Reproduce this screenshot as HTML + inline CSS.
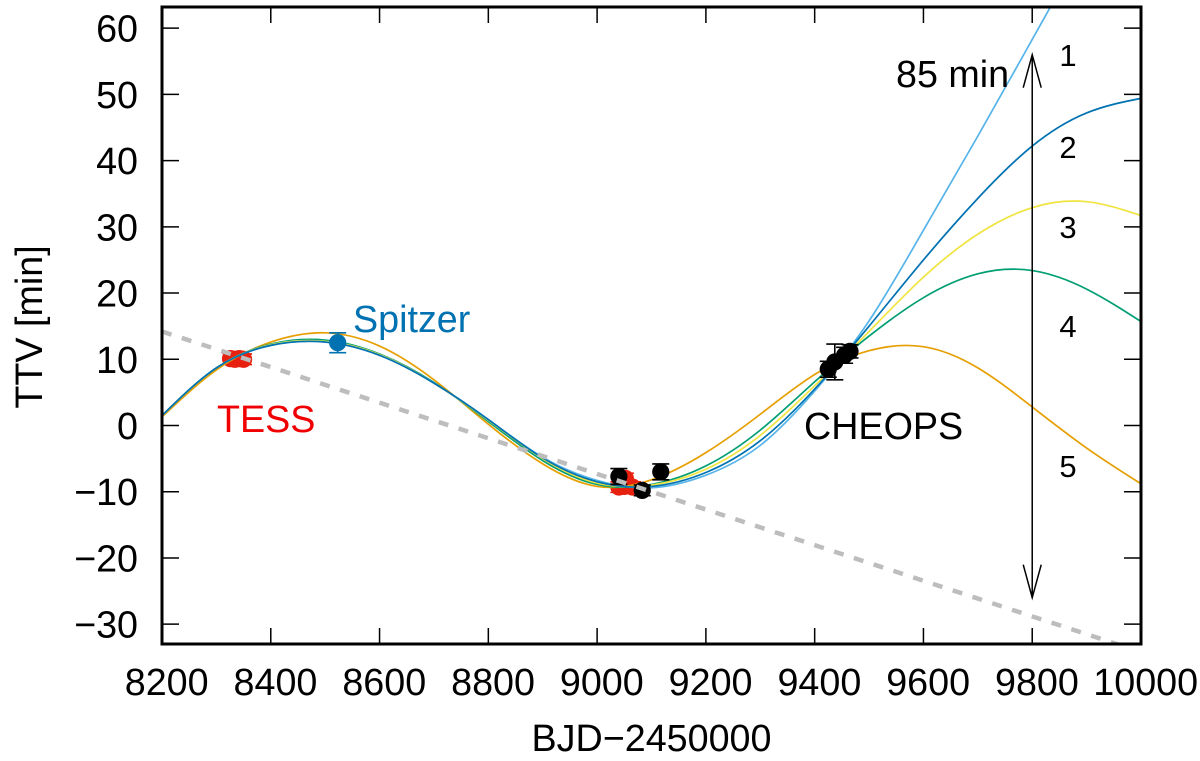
<!DOCTYPE html>
<html lang="en">
<head>
<meta charset="utf-8">
<title>TTV chart</title>
<style>
html,body{margin:0;padding:0;background:#fff;}
svg{display:block;}
text{font-family:"Liberation Sans",Arial,sans-serif;font-size:37.7px;fill:#000;}
</style>
</head>
<body>
<svg id="chart" xmlns="http://www.w3.org/2000/svg" width="1200" height="761" viewBox="0 0 1200 761">
<defs><clipPath id="plot-clip"><rect x="162" y="7" width="979" height="637"/></clipPath></defs>
</svg>
<script>
const xTicks = [8200,8400,8600,8800,9000,9200,9400,9600,9800,10000];
const yTicks = [-30,-20,-10,0,10,20,30,40,50,60];
const xGrid = [8200,8300,8400,8500,8600,8700,8800,8900,9000,9100,9200,9300,9400,9500,9600,9700,9800,9900,10000];
const model1 = [1.5,8.7,12.1,12.6,10.6,6.4,0.9,-4.8,-8.3,-9.4,-7.5,-3.0,5.2,15.8,29.5,43.7,58.3,73,88];
const model2 = [1.5,8.7,12.1,12.6,10.6,6.4,0.9,-4.9,-8.5,-9.2,-7.1,-2.3,5.5,15.0,25.0,34.3,42.2,47.2,49.4];
const model3 = [1.5,8.7,12.2,12.7,10.7,6.4,0.8,-5.0,-8.7,-9.0,-6.6,-1.5,6.0,14.2,22.4,28.9,32.9,33.8,31.7];
const model4 = [1.5,8.7,12.3,12.9,10.8,6.5,0.6,-5.3,-8.9,-8.9,-6.1,-0.7,6.6,13.5,19.3,22.9,23.4,20.6,15.7];
const model5 = [1.3,8.4,12.6,14.0,12.0,6.9,0.2,-5.8,-9.2,-8.2,-4.1,1.7,7.7,11.3,11.9,8.7,2.8,-3.4,-8.8];
const trendX = [8200,10000];
const trendY = [14.2,-34.2];
const tessX = [8326,8334,8342,8350,9040,9050,9052,9065];
const tessY = [10.1,10.0,10.1,10.0,-9.3,-9.2,-8.0,-9.3];
const tessErr = [0.8,0.8,0.8,0.8,0.8,0.8,0.8,0.8];
const spitzerX = [8523];
const spitzerY = [12.5];
const spitzerErr = [1.5];
const cheopsX = [9040,9083,9117,9425,9437,9455,9465];
const cheopsY = [-7.7,-9.8,-7.0,8.5,9.6,10.6,11.2];
const cheopsErr = [1.2,0.8,1.2,1.2,2.7,1.2,1.0];
const arrowValues = [-26,56];

const SVG_NS = 'http://www.w3.org/2000/svg';
const svg = document.getElementById('chart');
const X0 = 162, X1 = 1141, Y0 = 644, Y1 = 7;
const sx = v => X0 + (v - 8200) * (X1 - X0) / 1800;
const sy = v => 425.5 - v * 6.622;

function make(tag, attrs, parent) {
  const el = document.createElementNS(SVG_NS, tag);
  for (const k in attrs) el.setAttribute(k, attrs[k]);
  (parent || svg).appendChild(el);
  return el;
}
/* natural cubic spline through the data, emitted as bezier segments */
function smoothPath(xs, ys) {
  const px = xs.map(sx), py = ys.map(sy), n = px.length;
  const h = [], m = new Array(n).fill(0), c = new Array(n).fill(0), d = new Array(n).fill(0);
  for (let i = 0; i < n - 1; i++) h.push(px[i + 1] - px[i]);
  for (let i = 1; i < n - 1; i++) {
    const b = 2 * (h[i - 1] + h[i]) - h[i - 1] * c[i - 1];
    c[i] = h[i] / b;
    d[i] = (6 * ((py[i + 1] - py[i]) / h[i] - (py[i] - py[i - 1]) / h[i - 1]) - h[i - 1] * d[i - 1]) / b;
  }
  for (let i = n - 2; i > 0; i--) m[i] = d[i] - c[i] * m[i + 1];
  let path = 'M' + px[0].toFixed(2) + ' ' + py[0].toFixed(2);
  for (let i = 0; i < n - 1; i++) {
    const s0 = (py[i + 1] - py[i]) / h[i] - h[i] * (2 * m[i] + m[i + 1]) / 6;
    const s1 = (py[i + 1] - py[i]) / h[i] + h[i] * (m[i] + 2 * m[i + 1]) / 6;
    path += 'C' + (px[i] + h[i] / 3).toFixed(2) + ' ' + (py[i] + s0 * h[i] / 3).toFixed(2) + ' ' +
      (px[i + 1] - h[i] / 3).toFixed(2) + ' ' + (py[i + 1] - s1 * h[i] / 3).toFixed(2) + ' ' +
      px[i + 1].toFixed(2) + ' ' + py[i + 1].toFixed(2);
  }
  return path;
}
function drawPoints(xs, ys, errs, color, name, layer) {
  xs.forEach((x, i) => {
    const g = make('g', {}, layer);
    
    
    const cx = sx(x), top = sy(ys[i] + errs[i]), bot = sy(ys[i] - errs[i]);
    make('path', {d: 'M' + cx + ' ' + top + 'V' + bot + 'M' + (cx - 8.5) + ' ' + top + 'h17M' + (cx - 8.5) + ' ' + bot + 'h17',
      stroke: color, 'stroke-width': 1.6, fill: 'none'}, g);
    make('circle', {cx: cx, cy: sy(ys[i]), r: 8.6, fill: color}, g);
  });
}

/* ticks */
const ticksLayer = make('g', {});


xTicks.forEach(v => {
  const x = sx(v);
  make('path', {d: 'M' + x + ' ' + Y0 + 'v-16M' + x + ' ' + Y1 + 'v16', stroke: '#000', 'stroke-width': 1.5, fill: 'none'}, ticksLayer);
  const t = make('text', {x: x + 4.7, y: 695, 'text-anchor': 'middle'});
  
  
  t.textContent = String(v);
});
yTicks.forEach(v => {
  const y = sy(v);
  make('path', {d: 'M' + X0 + ' ' + y + 'h17M' + X1 + ' ' + y + 'h-17', stroke: '#000', 'stroke-width': 1.5, fill: 'none'}, ticksLayer);
  const t = make('text', {x: 138, y: y + 13.5, 'text-anchor': 'end'});
  
  
  t.textContent = String(v).replace('-', '\u2212');
});

/* data layer */
const plot = make('g', {'clip-path': 'url(#plot-clip)'});



drawPoints(tessX, tessY, tessErr, '#e8200f', 'tess', plot);

const curves = [
  [model5, '#e69f00', 'model-curve-5'],
  [model4, '#009e73', 'model-curve-4'],
  [model3, '#f0e442', 'model-curve-3'],
  [model1, '#56b4e9', 'model-curve-1'],
  [model2, '#0072b2', 'model-curve-2']
];
curves.forEach(c => {
  const el = make('path', {d: smoothPath(xGrid, c[0]), fill: 'none', stroke: c[1], 'stroke-width': 1.7}, plot);
  
  
});

drawPoints(cheopsX, cheopsY, cheopsErr, '#000', 'cheops', plot);
drawPoints(spitzerX, spitzerY, spitzerErr, '#0072b2', 'spitzer', plot);

const trend = make('line', {x1: sx(trendX[0]), y1: sy(trendY[0]), x2: sx(trendX[1]), y2: sy(trendY[1]),
  stroke: '#bdbdbd', 'stroke-width': 4.5, 'stroke-dasharray': '10 10.8'}, plot);



/* range arrow */
const ax = sx(9800), aBot = sy(arrowValues[0]), aTop = sy(arrowValues[1]);
const arrow = make('path', {d: 'M' + ax + ' ' + aTop + 'V' + aBot +
  'M' + (ax - 9) + ' ' + (aTop + 33) + 'L' + ax + ' ' + aTop + 'L' + (ax + 9) + ' ' + (aTop + 33) +
  'M' + (ax - 9) + ' ' + (aBot - 33) + 'L' + ax + ' ' + aBot + 'L' + (ax + 9) + ' ' + (aBot - 33),
  fill: 'none', stroke: '#000', 'stroke-width': 1.5});



/* frame */
const frame = make('rect', {x: X0, y: Y1, width: X1 - X0, height: Y0 - Y1, fill: 'none', stroke: '#000', 'stroke-width': 3});


</script>
<svg xmlns="http://www.w3.org/2000/svg" width="1200" height="761" viewBox="0 0 1200 761" style="position:absolute;left:0;top:0;pointer-events:none">
<text x="651.5" y="751" text-anchor="middle">BJD−2450000</text>
<text transform="translate(42 327) rotate(-90)" text-anchor="middle">TTV [min]</text>
<text x="353" y="332" style="fill:#0072b2">Spitzer</text>
<text x="217" y="432" style="fill:#f00000">TESS</text>
<text x="804" y="439">CHEOPS</text>
<text x="896" y="87">85 min</text>
<text x="1068" y="66" text-anchor="middle" style="font-size:31px">1</text>
<text x="1068" y="158" text-anchor="middle" style="font-size:31px">2</text>
<text x="1068" y="238" text-anchor="middle" style="font-size:31px">3</text>
<text x="1068" y="337" text-anchor="middle" style="font-size:31px">4</text>
<text x="1068" y="477" text-anchor="middle" style="font-size:31px">5</text>
</svg>
</body>
</html>
